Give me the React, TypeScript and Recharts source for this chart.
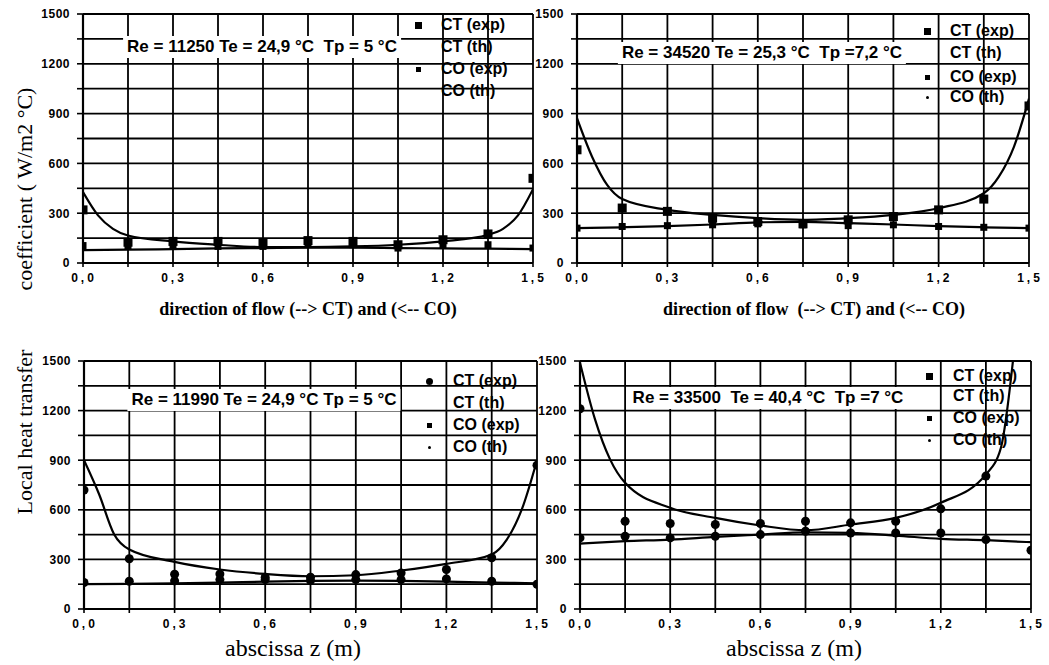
import React from "react";
import { ComposedChart, Line, Scatter, XAxis, YAxis, CartesianGrid } from "recharts";

// axis ticks
const zTicks = [0, 0.15, 0.3, 0.45, 0.6, 0.75, 0.9, 1.05, 1.2, 1.35, 1.5];
const hTicks = [0, 150, 300, 450, 600, 750, 900, 1050, 1200, 1350, 1500];

// abscissa of the measured points and of the model curves
const zExp = [0, 0.15, 0.3, 0.45, 0.6, 0.75, 0.9, 1.05, 1.2, 1.35, 1.5];
const zTheory = [0, 0.05, 0.1, 0.15, 0.3, 0.45, 0.6, 0.75, 0.9, 1.05, 1.2, 1.35, 1.4, 1.45, 1.5];
const zTheory4 = [0, 0.05, 0.1, 0.15, 0.3, 0.45, 0.6, 0.75, 0.9, 1.05, 1.2, 1.35, 1.4, 1.44];
const zFlat = [0, 0.15, 0.3, 0.45, 0.6, 0.75, 0.9, 1.05, 1.2, 1.35, 1.5];

const legendLabels = ["CT (exp)", "CT (th)", "CO (exp)", "CO (th)"];

// Re = 11250
const ctExp1 = [320, 125, 130, 130, 120, 135, 130, 110, 140, 175, 510];
const coExp1 = [105, 100, 100, 100, 100, 115, 110, 90, 110, 110, 90];
const ctTh1 = [427, 287, 206, 166, 130, 110, 96, 96, 100, 110, 130, 170, 206, 287, 445];
const coTh1 = [78, 80, 84, 88, 90, 92, 92, 90, 88, 86, 84];

// Re = 34520
const ctExp2 = [682, 331, 311, 270, 250, 236, 260, 280, 320, 385, 946];
const coExp2 = [210, 220, 225, 230, 236, 230, 225, 230, 220, 215, 210];
const ctTh2 = [872, 640, 470, 385, 320, 290, 270, 260, 270, 290, 330, 420, 520, 700, 990];
const coTh2 = [210, 215, 222, 232, 245, 248, 240, 232, 222, 215, 210];

// Re = 11990
const ctExp3 = [720, 304, 210, 212, 192, 192, 208, 218, 239, 310, 870];
const coExp3 = [160, 168, 170, 178, 178, 172, 178, 178, 182, 168, 150];
const ctTh3 = [900, 694, 451, 360, 285, 239, 212, 198, 204, 233, 273, 330, 420, 604, 900];
const coTh3 = [150, 152, 155, 160, 165, 170, 172, 170, 165, 160, 155];

// Re = 33500
const ctExp4 = [1211, 531, 517, 511, 517, 531, 521, 531, 606, 804, null];
const coExp4 = [430, 440, 430, 440, 450, 470, 460, 460, 460, 420, 355];
const ctTh4 = [1490, 1147, 905, 763, 612, 551, 505, 476, 511, 551, 642, 814, 975, 1500];
const coTh4 = [396, 410, 420, 436, 450, 464, 460, 444, 424, 416, 404];

type Marker = "square" | "smallSquare" | "circle" | "dot" | "none";

const SANS = "'Liberation Sans', Arial, sans-serif";
const SERIF = "'Liberation Serif', 'Times New Roman', serif";

function markerShape(kind: Marker) {
  return (props: any) => {
    const { cx, cy } = props;
    if (cx == null || cy == null) return <g />;
    if (kind === "square") return <rect x={cx - 4.5} y={cy - 4.5} width={9} height={9} fill="#000" />;
    if (kind === "smallSquare") return <rect x={cx - 3.5} y={cy - 3.5} width={7} height={7} fill="#000" />;
    if (kind === "circle") return <circle cx={cx} cy={cy} r={4.5} fill="#000" />;
    if (kind === "dot") return <circle cx={cx} cy={cy} r={1.5} fill="#000" />;
    return <g />;
  };
}

const XTick = (props: any) => {
  const { x, y, payload } = props;
  const v = payload.value;
  if (Math.round(v * 100) % 30 !== 0) return <g />;
  return (
    <text x={x + 1} y={y} dy="0.75em" textAnchor="middle" fill="#000"
      style={{ fontFamily: SANS, fontWeight: 700, fontSize: 12, letterSpacing: 3 }}>
      {v.toFixed(1).replace(".", ",")}
    </text>
  );
};

const YTick = (props: any) => {
  const { x, y, payload } = props;
  const v = payload.value;
  if (v % 300 !== 0) return <g />;
  return (
    <text x={x} y={y} dy="0.36em" textAnchor="end" fill="#000"
      style={{ fontFamily: SANS, fontWeight: 700, fontSize: 12, letterSpacing: 0.5 }}>
      {v}
    </text>
  );
};

interface PanelProps {
  box: [number, number, number, number];
  plot: [number, number, number, number];
  yWidth: number;
  ctExp: (number | null)[];
  coExp: (number | null)[];
  thZ: number[];
  ctTh: number[];
  coTh: number[];
  expShape: Marker;
  coShape: Marker;
}

function Panel({ box, plot, yWidth, ctExp, coExp, thZ, ctTh, coTh, expShape, coShape }: PanelProps) {
  const [bx, by, bw, bh] = box;
  const [pl, pt, pr, pb] = plot;
  const xHeight = 30;
  const margin = {
    top: pt - by,
    left: pl - bx - yWidth,
    right: bx + bw - pr,
    bottom: by + bh - pb - xHeight,
  };
  const pts = (vals: (number | null)[]) =>
    zExp.map((z, i) => ({ z, h: vals[i] })).filter((d) => d.h != null);
  const curve = (zs: number[], vals: number[]) => zs.map((z, i) => ({ z, h: vals[i] }));

  return (
    <div style={{ position: "absolute", left: bx, top: by }}>
      <ComposedChart width={bw} height={bh} margin={margin}>
        <CartesianGrid stroke="#000" strokeWidth={1.8} />
        <XAxis type="number" dataKey="z" domain={[0, 1.5]} ticks={zTicks} interval={0}
          allowDataOverflow height={xHeight} tickSize={4} tickMargin={6}
          axisLine={{ stroke: "#000", strokeWidth: 2.2 }} tickLine={{ stroke: "#000", strokeWidth: 1.6 }}
          tick={<XTick />} />
        <YAxis type="number" dataKey="h" domain={[0, 1500]} ticks={hTicks} interval={0}
          allowDataOverflow width={yWidth} tickSize={6} tickMargin={7}
          axisLine={{ stroke: "#000", strokeWidth: 2.2 }} tickLine={{ stroke: "#000", strokeWidth: 1.6 }}
          tick={<YTick />} />
        <Line data={curve(thZ, ctTh)} type="monotone" dataKey="h" stroke="#000" strokeWidth={2.2}
          dot={false} isAnimationActive={false} />
        <Line data={curve(zFlat, coTh)} type="monotone" dataKey="h" stroke="#000" strokeWidth={2.2}
          dot={false} isAnimationActive={false} />
        <Scatter data={pts(ctExp)} dataKey="h" shape={markerShape(expShape)} isAnimationActive={false} />
        <Scatter data={pts(coExp)} dataKey="h" shape={markerShape(coShape)} isAnimationActive={false} />
      </ComposedChart>
    </div>
  );
}

function Note({ x, y, text }: { x: number; y: number; text: string }) {
  return (
    <div style={{
      position: "absolute", left: x, top: y, transform: "translate(-50%, -50%)",
      background: "#fff", padding: "1px 4px", whiteSpace: "pre", fontFamily: SANS,
      fontWeight: 700, fontSize: 17, lineHeight: "20px", color: "#000", zIndex: 2,
    }}>{text}</div>
  );
}

function Key({ mx, lx, rows, markers }: { mx: number; lx: number; rows: number[]; markers: Marker[] }) {
  return (
    <>
      {legendLabels.map((lab, i) => {
        const m = markers[i];
        const s = m === "square" ? 7 : m === "smallSquare" ? 5 : m === "circle" ? 7 : m === "dot" ? 3 : 0;
        return (
          <React.Fragment key={lab}>
            {s > 0 && (
              <div style={{
                position: "absolute", left: mx - s / 2, top: rows[i] - s / 2, width: s, height: s,
                background: "#000", borderRadius: m === "circle" || m === "dot" ? "50%" : 0, zIndex: 2,
              }} />
            )}
            <div style={{
              position: "absolute", left: lx, top: rows[i] - 9, lineHeight: "18px", whiteSpace: "pre",
              fontFamily: SANS, fontWeight: 700, fontSize: 16, color: "#000", zIndex: 2,
            }}>{lab}</div>
          </React.Fragment>
        );
      })}
    </>
  );
}

function Title({ x, y, text, size, bold, rotate }: { x: number; y: number; text: string; size: number; bold?: boolean; rotate?: boolean }) {
  return (
    <div style={{
      position: "absolute", left: x, top: y,
      transform: `translate(-50%, -50%)${rotate ? " rotate(-90deg)" : ""}`,
      whiteSpace: "pre", fontFamily: SERIF, fontWeight: bold ? 700 : 400, fontSize: size,
      lineHeight: 1, color: "#000", zIndex: 2,
    }}>{text}</div>
  );
}

export default function App() {
  return (
    <div style={{ position: "absolute", left: 0, top: 0, width: 1049, height: 665, background: "#fff", overflow: "hidden" }}>
      <Panel box={[0, 0, 560, 320]} plot={[83, 14, 533, 263]} yWidth={40}
        ctExp={ctExp1} coExp={coExp1} thZ={zTheory} ctTh={ctTh1} coTh={coTh1}
        expShape="square" coShape="smallSquare" />
      <Panel box={[530, 0, 519, 320]} plot={[577, 14, 1029, 263]} yWidth={45}
        ctExp={ctExp2} coExp={coExp2} thZ={zTheory} ctTh={ctTh2} coTh={coTh2}
        expShape="square" coShape="smallSquare" />
      <Panel box={[0, 330, 560, 335]} plot={[84, 361, 537, 609]} yWidth={40}
        ctExp={ctExp3} coExp={coExp3} thZ={zTheory} ctTh={ctTh3} coTh={coTh3}
        expShape="circle" coShape="circle" />
      <Panel box={[530, 330, 519, 335]} plot={[580, 361, 1031, 609]} yWidth={45}
        ctExp={ctExp4} coExp={coExp4} thZ={zTheory4} ctTh={ctTh4} coTh={coTh4}
        expShape="circle" coShape="circle" />

      <Note x={262} y={47} text={"Re = 11250 Te = 24,9 °C  Tp = 5 °C"} />
      <Note x={762} y={53} text={"Re = 34520 Te = 25,3 °C  Tp =7,2 °C"} />
      <Note x={264} y={400} text={"Re = 11990 Te = 24,9 °C Tp = 5 °C"} />
      <Note x={768} y={398} text={"Re = 33500  Te = 40,4 °C  Tp =7 °C"} />

      <Key mx={418} lx={441} rows={[25, 47, 69, 91]} markers={["square", "none", "smallSquare", "none"]} />
      <Key mx={927} lx={950} rows={[31, 53, 77, 97]} markers={["square", "none", "smallSquare", "dot"]} />
      <Key mx={429} lx={453} rows={[381, 403, 425, 447]} markers={["circle", "none", "smallSquare", "dot"]} />
      <Key mx={929} lx={953} rows={[376, 396, 418, 440]} markers={["square", "none", "smallSquare", "dot"]} />

      <Title x={308} y={309} text={"direction of flow (--> CT) and (<-- CO)"} size={18} bold />
      <Title x={814} y={309} text={"direction of flow  (--> CT) and (<-- CO)"} size={18} bold />
      <Title x={293} y={648} text={"abscissa z (m)"} size={24} />
      <Title x={794} y={648} text={"abscissa z (m)"} size={24} />
      <Title x={25} y={189} text={"coefficient ( W/m2 °C)"} size={22} rotate />
      <Title x={25} y={432} text={"Local heat transfer"} size={22} rotate />
    </div>
  );
}
